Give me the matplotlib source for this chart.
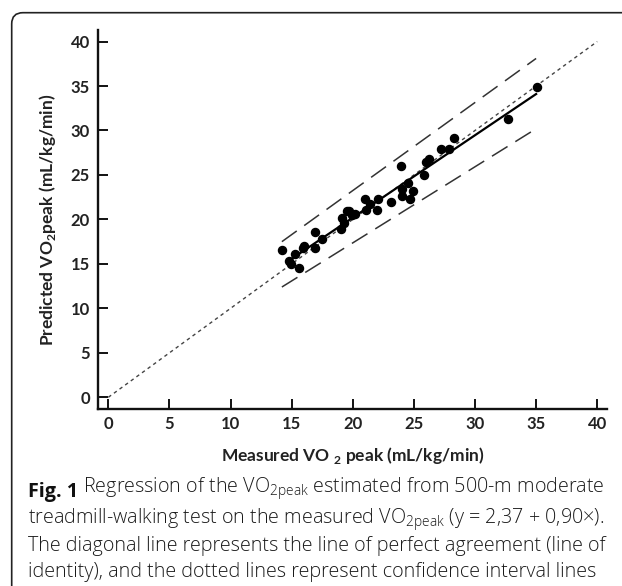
import matplotlib
matplotlib.use("Agg")
from matplotlib import pyplot as plt
from matplotlib.patches import FancyBboxPatch

# measured vs predicted VO2peak (mL/kg/min)
measured = [14.25, 14.75, 14.95, 15.3, 15.6, 15.9, 16.0, 16.9, 16.95, 17.5,
            19.0, 19.1, 19.3, 19.5, 19.7, 19.95, 20.2, 21.0, 21.1, 21.4,
            22.0, 22.05, 23.1, 23.95, 24.0, 24.05, 24.5, 24.7, 24.95, 25.8,
            26.0, 26.2, 27.2, 27.9, 28.3, 32.7, 35.05]
predicted = [16.55, 15.35, 15.0, 16.1, 14.5, 16.8, 17.0, 18.6, 16.8, 17.8,
             18.9, 20.2, 19.6, 20.9, 21.0, 20.5, 20.6, 22.3, 21.1, 21.7,
             21.1, 22.3, 22.0, 26.0, 22.6, 23.4, 24.1, 22.3, 23.2, 25.0,
             26.5, 26.8, 27.9, 27.9, 29.1, 31.3, 34.9]

# regression line and confidence interval lines (end points)
reg_x = [14.6, 35.0]
reg_y = [15.2, 34.1]
ci_x = [14.2, 35.0]
ci_upper = [17.5, 38.1]
ci_lower = [12.4, 30.2]
identity = [0, 40]

ticks = [0, 5, 10, 15, 20, 25, 30, 35, 40]

W, H = 622, 586
fig = plt.figure(figsize=(W / 100, H / 100), dpi=100)

# rounded frame around figure + caption
frame = FancyBboxPatch((11.7 / W, -0.2), 1.2, 1.2 - 12.7 / H,
                       boxstyle="round,pad=0,rounding_size=0.018",
                       transform=fig.transFigure, fill=False,
                       edgecolor="#222222", linewidth=1.2, mutation_aspect=W / H)
fig.patches.append(frame)

ax = fig.add_axes([98.3 / W, 1 - 409.3 / H, (607 - 98.3) / W, (409.3 - 30) / H])

ax.plot(identity, identity, color="#444444", lw=1.0, linestyle=(0, (2.5, 2.5)))
ax.plot(ci_x, ci_upper, color="#333333", lw=1.1, linestyle=(0, (12, 6)))
ax.plot(ci_x, ci_lower, color="#333333", lw=1.1, linestyle=(0, (12, 6)))
ax.plot(reg_x, reg_y, color="black", lw=1.6)
ax.plot(measured, predicted, "o", color="black", markersize=5.8)

ax.set_xlim(-0.82, 40.8)
ax.set_ylim(-1.35, 41.3)
ax.set_xticks(ticks)
ax.set_yticks(ticks)

for side in ["top", "right"]:
    ax.spines[side].set_visible(False)
for side in ["left", "bottom"]:
    ax.spines[side].set_linewidth(1.7)
    ax.spines[side].set_color("#111111")

ax.tick_params(direction="in", length=7.5, width=1.4, color="#111111")
ax.tick_params(axis="x", pad=5)
ax.tick_params(axis="y", pad=6)
for lab in ax.get_xticklabels() + ax.get_yticklabels():
    lab.set_fontfamily("Lato")
    lab.set_fontweight("bold")
    lab.set_fontsize(12)
    lab.set_color("#222222")

ax.set_xlabel(r"Measured VO $_\mathregular{2}$ peak (mL/kg/min)",
              family="Lato", weight="bold", fontsize=12.5, color="#222222", labelpad=9)
ax.set_ylabel(r"Predicted VO$_\mathregular{2}$peak (mL/kg/min)",
              family="Lato", weight="bold", fontsize=12.5, color="#222222", labelpad=9)

# caption
cap_x = 28 / W
cap_size = 14.2
fig_lbl = fig.text(cap_x, 1 - 497 / H, "Fig. 1", family="Open Sans",
                   weight="bold", fontsize=cap_size, va="baseline", color="#111111")
ax.annotate(r" Regression of the VO$_\mathregular{2peak}$ estimated from 500-m moderate",
            xy=(1, 0), xycoords=fig_lbl, va="bottom", ha="left",
            family="Open Sans", weight="light", fontsize=cap_size, color="#1a1a1a",
            annotation_clip=False)
caption_rest = [
    r"treadmill-walking test on the measured VO$_\mathregular{2peak}$ (y = 2,37 + 0,90×).",
    "The diagonal line represents the line of perfect agreement (line of",
    "identity), and the dotted lines represent confidence interval lines",
]
for i, line in enumerate(caption_rest):
    fig.text(cap_x, 1 - (524 + 26.7 * i) / H, line, family="Open Sans",
             weight="light", fontsize=cap_size, va="baseline", color="#1a1a1a")

fig.savefig("out.png", dpi=100)
